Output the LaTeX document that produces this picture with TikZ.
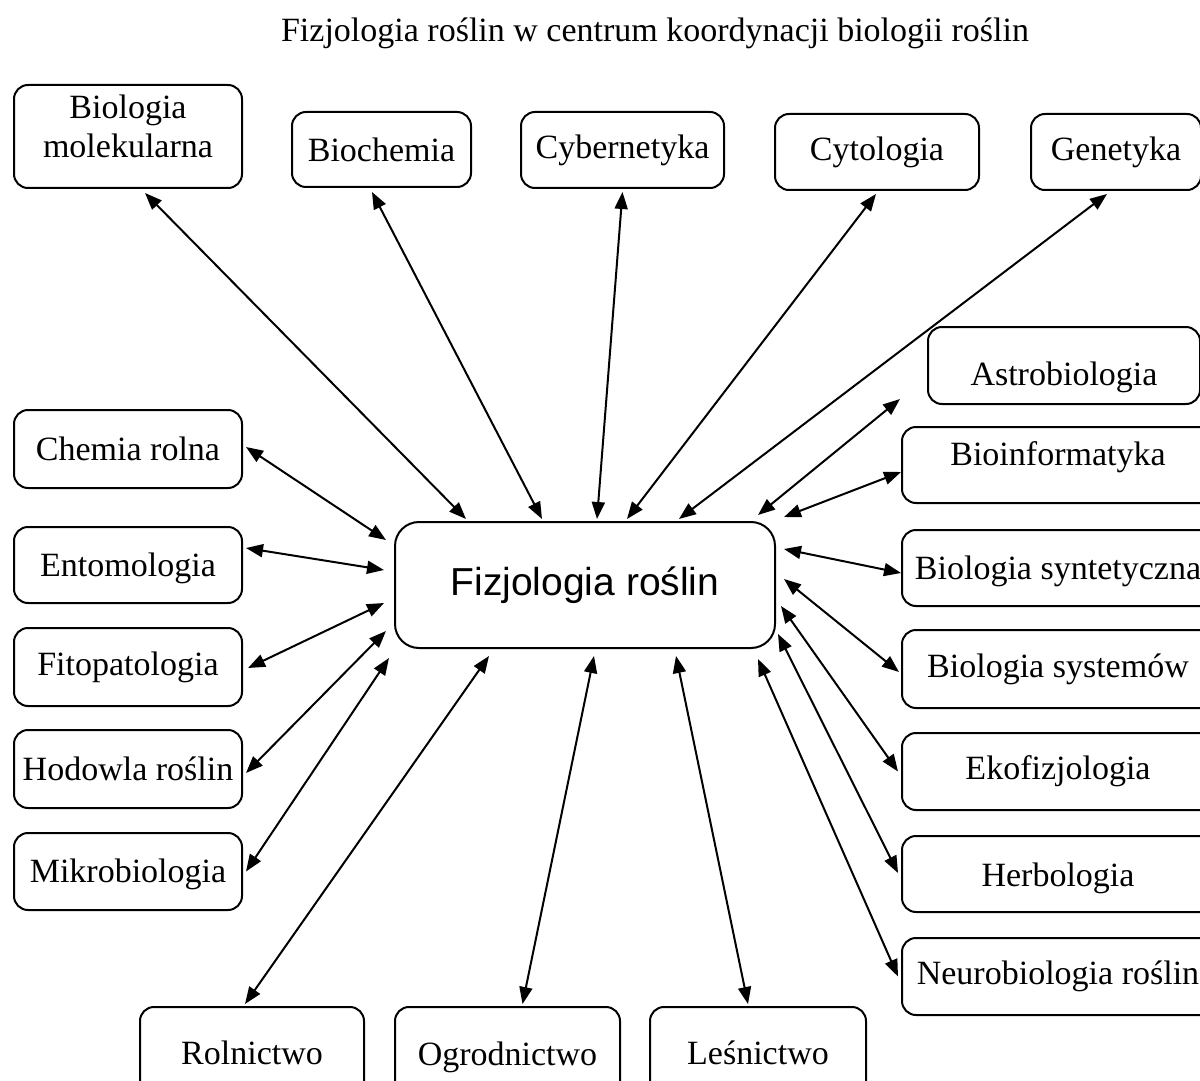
\documentclass[tikz,border=0pt]{standalone}
\usepackage{fontspec}
\setmainfont{Liberation Serif}
\newfontfamily\arialfont{Liberation Sans}
\usetikzlibrary{arrows.meta,calc}

\tikzset{
  dziedzina/.style={draw, line width=1pt, rounded corners=7pt, align=center,
    inner sep=0pt, font=\fontsize{17}{19.5}\selectfont},
  polaczenie/.style={{Triangle[length=8.5pt,width=6.5pt]}-{Triangle[length=8.5pt,width=6.5pt]},
    line width=1pt}
}

\begin{document}
\begin{tikzpicture}[x=0.5pt,y=-0.5pt]
\useasboundingbox (0,0) rectangle (1200,1081);
\clip (0,0) rectangle (1200,1081);

\node[font=\fontsize{17}{19}\selectfont] (tytul) at (655,33)
  {Fizjologia roślin w centrum koordynacji biologii roślin};

\node[draw, line width=1pt, rounded corners=12pt, minimum width=190pt, minimum height=63pt,
  font=\arialfont\fontsize{19.5}{22}\selectfont] (fr) at (585,585) {Fizjologia roślin};

% gorny rzad
\node[dziedzina, minimum width=114pt, minimum height=51.5pt, text depth=10pt] (bm) at (128,136.5) {Biologia\\molekularna};
\node[dziedzina, minimum width=89.5pt, minimum height=37.5pt] (bc) at (381.5,149.5) {Biochemia};
\node[dziedzina, minimum width=101.5pt, minimum height=38pt] (cy) at (622.5,150) {Cybernetyka};
\node[dziedzina, minimum width=102pt, minimum height=38pt] (ct) at (877,152) {Cytologia};
\node[dziedzina, minimum width=85pt, minimum height=38pt] (gn) at (1116,152) {Genetyka};

% prawa kolumna
\node[dziedzina, minimum width=136pt, minimum height=38.5pt, text height=24pt, text depth=4pt] (as) at (1064,365.5) {Astrobiologia};
\node[dziedzina, minimum width=156pt, minimum height=38pt, text height=12pt, text depth=12pt] (bi) at (1058,465) {Bioinformatyka};
\node[dziedzina, minimum width=156pt, minimum height=38pt, text height=15pt, text depth=4pt] (bs) at (1058,568) {Biologia syntetyczna};
\node[dziedzina, minimum width=156pt, minimum height=39pt] (bsy) at (1058,669) {Biologia systemów};
\node[dziedzina, minimum width=156pt, minimum height=38.5pt] (ek) at (1058,771.5) {Ekofizjologia};
\node[dziedzina, minimum width=156pt, minimum height=38pt, text height=16pt, text depth=4pt] (hb) at (1058,874) {Herbologia};
\node[dziedzina, minimum width=156pt, minimum height=38.5pt] (nb) at (1058,976.5) {Neurobiologia roślin};

% lewa kolumna
\node[dziedzina, minimum width=114pt, minimum height=39pt] (cr) at (128,449) {Chemia rolna};
\node[dziedzina, minimum width=114pt, minimum height=38pt, text height=15pt, text depth=4pt] (en) at (128,565) {Entomologia};
\node[dziedzina, minimum width=114pt, minimum height=39pt] (fp) at (128,667) {Fitopatologia};
\node[dziedzina, minimum width=114pt, minimum height=39pt] (hr) at (128,769) {Hodowla roślin};
\node[dziedzina, minimum width=114pt, minimum height=38.5pt, text height=15pt, text depth=4pt] (mb) at (128,871.5) {Mikrobiologia};

% dolny rzad
\node[dziedzina, minimum width=112pt, minimum height=46pt] (ro) at (252,1053) {Rolnictwo};
\node[dziedzina, minimum width=112.5pt, minimum height=46pt, text height=16pt, text depth=4pt] (og) at (507.5,1053) {Ogrodnictwo};
\node[dziedzina, minimum width=108pt, minimum height=46pt] (le) at (758,1053) {Leśnictwo};

\coordinate (astip) at ($(as.south west)+(-27,-6)$);

\draw[polaczenie] ($(fr.north west)+(72,-2)$) -- ($(bm.south)+(17,4)$);
\draw[polaczenie] ($(fr.north west)+(148,-2)$) -- ($(bc.south)+(-9.5,4)$);
\draw[polaczenie] ($(fr.north west)+(203,-2)$) -- ($(cy.south)+(0,3)$);
\draw[polaczenie] ($(fr.north west)+(233,-2)$) -- ($(ct.south)+(-1,3)$);
\draw[polaczenie] ($(fr.north west)+(285,-2)$) -- ($(gn.south)+(-9,3)$);

\draw[polaczenie] ($(fr.north east)+(-18,-6)$) -- (astip);
\draw[polaczenie] ($(fr.north east)+(8,-4)$) -- ($(bi.west)+(0,7)$);
\draw[polaczenie] ($(fr.north east)+(8,28)$) -- ($(bs.west)+(0,5)$);
\draw[polaczenie] ($(fr.north east)+(8,58)$) -- ($(bsy.west)+(-2,3)$);
\draw[polaczenie] ($(fr.north east)+(5,85)$) -- ($(ek.west)+(-3,0)$);
\draw[polaczenie] ($(fr.south east)+(2,-15)$) -- ($(hb.west)+(-3,-1)$);
\draw[polaczenie] ($(fr.south east)+(-18,10)$) -- ($(nb.west)+(-3,0)$);

\draw[polaczenie] ($(fr.south west)+(282,7)$) -- ($(le.north)+(-10,-2)$);
\draw[polaczenie] ($(fr.south west)+(200,7)$) -- ($(og.north)+(15,-2)$);
\draw[polaczenie] ($(fr.south west)+(95,7)$) -- ($(ro.north)+(-7,-2)$);

\draw[polaczenie] ($(fr.south west)+(-5,9)$) -- ($(mb.east)+(3,0)$);
\draw[polaczenie] ($(fr.south west)+(-8,-18)$) -- ($(hr.east)+(3,4)$);
\draw[polaczenie] ($(fr.west)+(-10,18)$) -- ($(fp.east)+(5,1)$);
\draw[polaczenie] ($(fr.west)+(-10,-15)$) -- ($(en.east)+(3,-17)$);
\draw[polaczenie] ($(fr.west)+(-8,-45)$) -- ($(cr.east)+(3,-2)$);
\end{tikzpicture}
\end{document}
